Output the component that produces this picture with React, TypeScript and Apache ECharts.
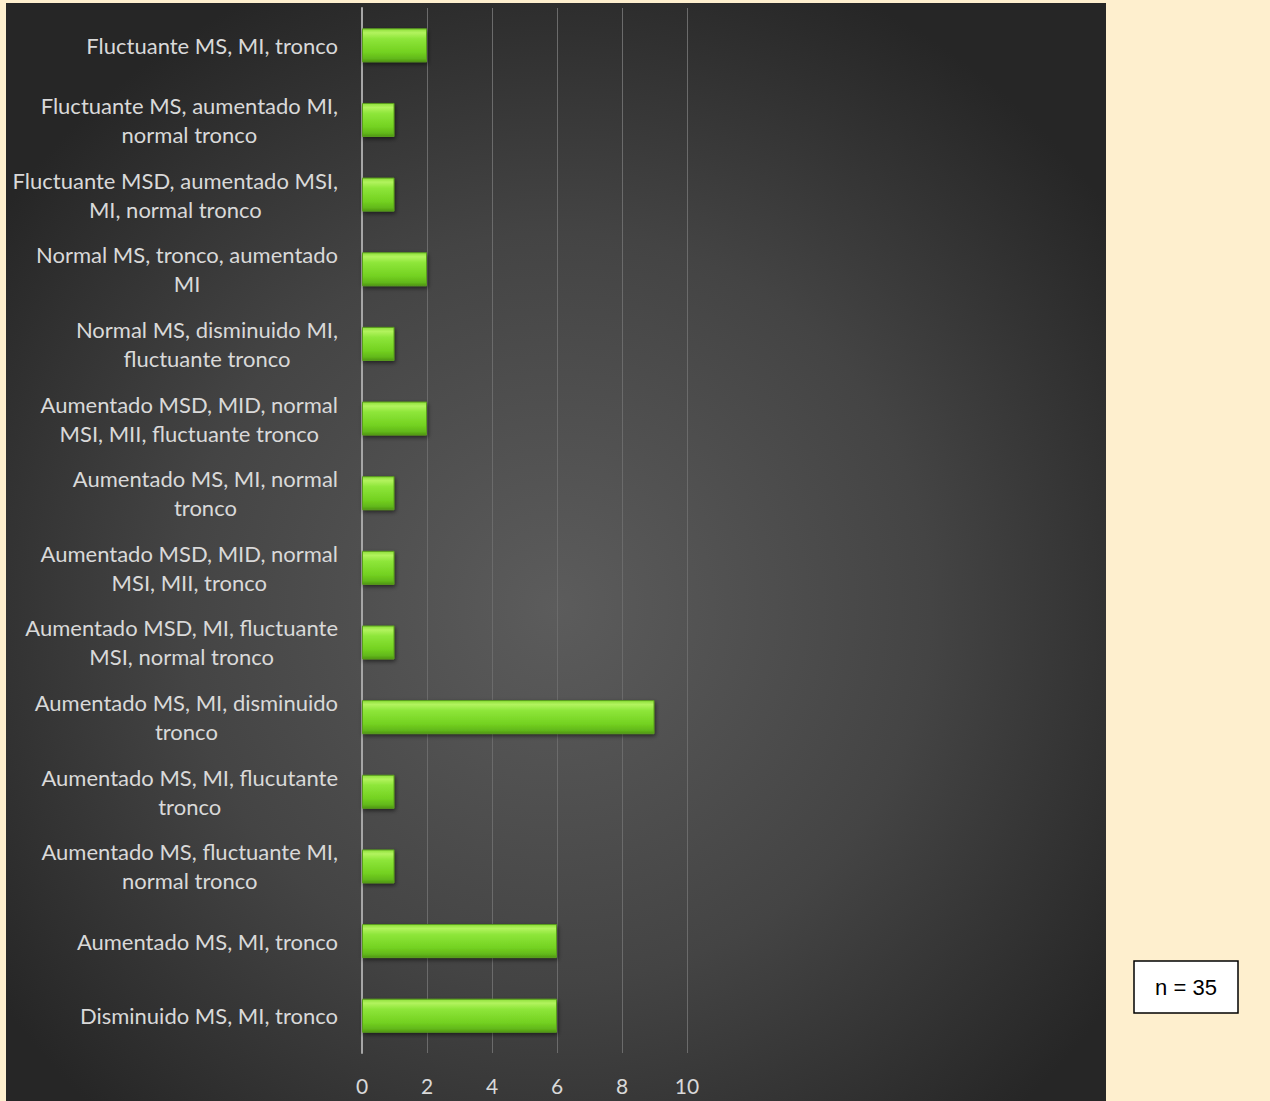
import React, { useEffect, useRef } from "react";
import * as echarts from "echarts";

const categories: string[] = [
  "Fluctuante MS, MI, tronco",
  "Fluctuante MS, aumentado MI,\nnormal tronco",
  "Fluctuante MSD, aumentado MSI,\nMI, normal tronco",
  "Normal MS, tronco, aumentado\nMI",
  "Normal MS, disminuido MI,\nfluctuante tronco",
  "Aumentado MSD, MID, normal\nMSI, MII, fluctuante tronco",
  "Aumentado MS, MI, normal\ntronco",
  "Aumentado MSD, MID, normal\nMSI, MII, tronco",
  "Aumentado MSD, MI, fluctuante\nMSI, normal tronco",
  "Aumentado MS, MI, disminuido\ntronco",
  "Aumentado MS, MI, flucutante\ntronco",
  "Aumentado MS, fluctuante MI,\nnormal tronco",
  "Aumentado MS, MI, tronco",
  "Disminuido MS, MI, tronco",
];

const values: number[] = [2, 1, 1, 2, 1, 2, 1, 1, 1, 9, 1, 1, 6, 6];

const xTicks = { min: 0, max: 10, interval: 2 };
const noteText = "n = 35";

const FONT = "Lato, 'Open Sans', sans-serif";

export default function App() {
  const ref = useRef<HTMLDivElement>(null);
  useEffect(() => {
    if (!ref.current) return;
    const chart = echarts.init(ref.current, null, { renderer: "svg" });
    chart.setOption({
      animation: false,
      backgroundColor: "#FEEFCE",
      graphic: [
        {
          type: "rect",
          z: -10,
          silent: true,
          shape: { x: 6, y: 3, width: 1100, height: 1098 },
          style: {
            fill: new echarts.graphic.RadialGradient(0.5, 0.55, 0.62, [
              { offset: 0, color: "#5c5c5c" },
              { offset: 0.55, color: "#444444" },
              { offset: 1, color: "#262626" },
            ]),
          },
        },
        {
          type: "rect",
          shape: { x: 1134, y: 961, width: 104, height: 52 },
          style: { fill: "#ffffff", stroke: "#000000", lineWidth: 1.5 },
        },
        {
          type: "text",
          x: 1186,
          y: 987,
          style: {
            text: noteText,
            fill: "#000000",
            font: "22px 'Liberation Sans', Arial, sans-serif",
            textAlign: "center",
            textVerticalAlign: "middle",
          },
        },
      ],
      grid: { left: 362, right: 583, top: 8, bottom: 48, containLabel: false },
      xAxis: {
        type: "value",
        min: xTicks.min,
        max: xTicks.max,
        interval: xTicks.interval,
        axisLine: { show: false },
        axisTick: { show: false },
        splitLine: { show: true, lineStyle: { color: "#6b6b6b", width: 1 } },
        axisLabel: {
          color: "#d9d9d9",
          fontSize: 21,
          fontFamily: FONT,
          margin: 22,
        },
      },
      yAxis: {
        type: "category",
        inverse: true,
        data: categories,
        axisLine: { show: true, lineStyle: { color: "#a6a6a6", width: 2 } },
        axisTick: { show: false },
        axisLabel: {
          margin: 24,
          align: "right",
          formatter: (v: string) =>
            v
              .split("\n")
              .map((l) => `{c|${l}}`)
              .join("\n"),
          rich: {
            c: {
              align: "center",
              color: "#d9d9d9",
              fontSize: 22,
              lineHeight: 29,
              fontFamily: FONT,
            },
          },
        },
      },
      series: [
        {
          type: "bar",
          data: values,
          barWidth: 34,
          itemStyle: {
            color: new echarts.graphic.LinearGradient(0, 0, 0, 1, [
              { offset: 0, color: "#8ee03a" },
              { offset: 0.12, color: "#b2f35e" },
              { offset: 0.3, color: "#8ee63a" },
              { offset: 0.7, color: "#74d221" },
              { offset: 0.9, color: "#62b81a" },
              { offset: 1, color: "#4e9614" },
            ]),
            borderColor: "#5a9e1c",
            borderWidth: 1,
            shadowBlur: 4,
            shadowColor: "rgba(0,0,0,0.55)",
            shadowOffsetX: 1,
            shadowOffsetY: 2,
          },
        },
      ],
    });
    return () => chart.dispose();
  }, []);
  return (
    <div
      ref={ref}
      style={{ position: "fixed", left: 0, top: 0, width: 1270, height: 1101 }}
    />
  );
}
